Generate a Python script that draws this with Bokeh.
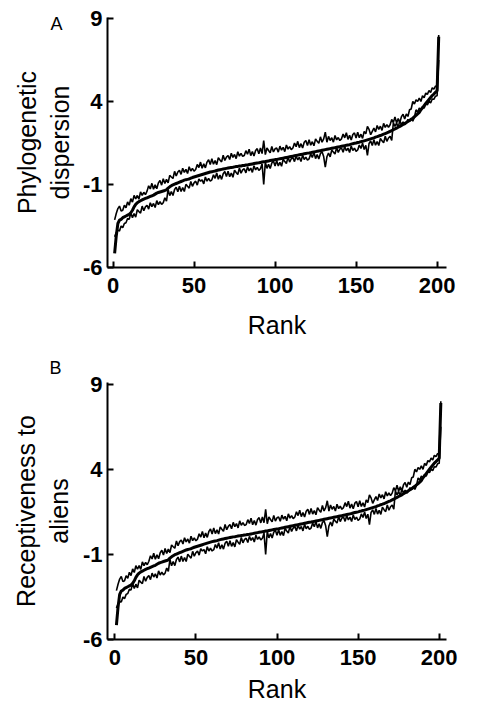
from bokeh.plotting import figure
from bokeh.layouts import column
from bokeh.models import Range1d, FixedTicker, Title
from bokeh.embed import file_html
from bokeh.resources import INLINE

# ---------------- data ----------------
rank = list(range(1, 202))

x_ticks = [0, 50, 100, 150, 200]
y_ticks = [-6, -1, 4, 9]
y_tick_labels = {-6: "-6", -1: "-1", 4: "4", 9: "9"}

disp_mean = [
    -5.15, -4.10, -3.35, -3.15, -3.10, -3.00, -2.95, -2.90, -2.85, -2.80,
    -2.70, -2.55, -2.35, -2.20, -2.10, -2.03, -1.98, -1.93, -1.88, -1.84,
    -1.80, -1.76, -1.72, -1.68, -1.64, -1.58, -1.52, -1.48, -1.45, -1.42,
    -1.39, -1.36, -1.32, -1.22, -1.14, -1.08, -1.02, -0.98, -0.94, -0.90,
    -0.86, -0.82, -0.78, -0.74, -0.71, -0.69, -0.67, -0.62, -0.58, -0.55,
    -0.52, -0.49, -0.46, -0.43, -0.40, -0.37, -0.34, -0.31, -0.28, -0.25,
    -0.23, -0.21, -0.19, -0.16, -0.13, -0.11, -0.09, -0.07, -0.05, -0.03,
    -0.01, 0.01, 0.03, 0.04, 0.06, 0.08, 0.09, 0.11, 0.12, 0.14,
    0.15, 0.17, 0.18, 0.20, 0.22, 0.24, 0.26, 0.28, 0.30, 0.31,
    0.33, 0.35, 0.37, 0.38, 0.40, 0.42, 0.44, 0.46, 0.48, 0.50,
    0.51, 0.53, 0.55, 0.57, 0.59, 0.61, 0.63, 0.65, 0.67, 0.69,
    0.71, 0.73, 0.75, 0.77, 0.79, 0.81, 0.83, 0.85, 0.87, 0.89,
    0.90, 0.92, 0.94, 0.96, 0.98, 1.00, 1.02, 1.04, 1.06, 1.08,
    1.10, 1.12, 1.14, 1.16, 1.18, 1.20, 1.22, 1.24, 1.26, 1.28,
    1.30, 1.32, 1.34, 1.36, 1.38, 1.40, 1.43, 1.46, 1.48, 1.50,
    1.53, 1.55, 1.58, 1.60, 1.63, 1.66, 1.69, 1.72, 1.75, 1.78,
    1.81, 1.85, 1.88, 1.92, 1.95, 1.99, 2.03, 2.07, 2.11, 2.15,
    2.20, 2.25, 2.30, 2.35, 2.40, 2.45, 2.50, 2.56, 2.62, 2.68,
    2.74, 2.80, 2.86, 2.93, 3.00, 3.08, 3.16, 3.25, 3.34, 3.50,
    3.62, 3.75, 3.88, 4.00, 4.12, 4.24, 4.36, 4.45, 4.55, 4.65,
    7.90,
]

disp_upper = [
    -3.13, -2.75, -2.45, -2.30, -2.60, -2.55, -2.25, -2.40, -2.05, -2.25,
    -1.85, -2.06, -1.66, -1.87, -1.66, -1.88, -1.44, -1.66, -1.47, -1.61,
    -1.40, -1.08, -1.27, -0.93, -1.29, -1.02, -1.26, -0.90, -0.76, -1.04,
    -0.65, -0.94, -0.69, -0.90, -0.45, -0.55, -0.64, -0.21, -0.49, -0.25,
    -0.15, -0.39, -0.02, -0.27, -0.09, -0.34, 0.07, -0.19, -0.03, -0.20,
    -0.10, 0.21, 0.02, 0.35, -0.02, 0.25, 0.00, 0.35, 0.49, 0.20,
    0.55, 0.22, 0.44, 0.20, 0.62, 0.48, 0.36, 0.76, 0.45, 0.65,
    0.75, 0.51, 0.88, 0.63, 0.81, 0.56, 0.97, 0.71, 0.87, 0.70,
    0.75, 1.04, 0.82, 1.13, 0.74, 0.99, 0.72, 1.05, 1.16, 0.85,
    1.20, 0.86, 1.65, 0.80, 1.20, 1.05, 0.91, 1.29, 0.96, 1.15,
    1.20, 0.95, 1.31, 1.07, 1.24, 0.98, 1.38, 1.13, 1.28, 1.10,
    1.20, 1.50, 1.28, 1.60, 1.22, 1.46, 1.20, 1.54, 1.65, 1.35,
    1.70, 1.37, 1.58, 1.33, 1.75, 1.60, 1.48, 1.87, 1.55, 1.75,
    2.15, 1.55, 1.90, 1.65, 1.82, 1.55, 1.95, 1.69, 1.83, 1.65,
    1.75, 2.04, 1.81, 2.12, 1.72, 1.96, 1.68, 2.01, 2.11, 1.80,
    2.15, 1.82, 2.03, 1.78, 2.20, 2.05, 2.50, 2.32, 2.00, 2.20,
    2.40, 2.17, 2.55, 2.32, 2.51, 2.26, 2.68, 2.44, 2.61, 2.45,
    2.60, 2.92, 2.73, 3.07, 2.71, 2.97, 2.73, 3.09, 3.23, 2.95,
    3.25, 3.10, 3.50, 3.55, 4.00, 3.85, 4.10, 4.00, 4.20, 4.00,
    4.35, 4.23, 4.51, 4.43, 4.66, 4.54, 4.82, 4.74, 4.92, 4.95,
    8.00,
]

disp_lower = [
    -4.15, -3.90, -3.75, -3.80, -3.50, -3.60, -3.35, -3.30, -3.05, -3.10,
    -2.70, -3.00, -2.75, -2.97, -2.52, -2.63, -2.72, -2.30, -2.58, -2.35,
    -2.25, -2.48, -2.10, -2.33, -2.14, -2.39, -1.97, -2.21, -2.04, -2.20,
    -2.10, -1.80, -2.00, -1.30, -1.67, -1.42, -1.66, -1.30, -1.16, -1.44,
    -1.10, -1.42, -1.18, -1.42, -0.99, -1.11, -1.22, -0.82, -1.11, -0.90,
    -0.80, -1.04, -0.66, -0.80, -0.72, -0.96, -0.55, -0.80, -0.63, -0.80,
    -0.72, -0.42, -0.63, -0.31, -0.68, -0.43, -0.69, -0.35, -0.22, -0.52,
    -0.20, -0.53, -0.31, -0.56, -0.14, -0.28, -0.40, -0.01, -0.32, -0.12,
    -0.05, -0.30, 0.06, -0.18, -0.01, -0.27, 0.13, -0.12, 0.03, -0.15,
    -0.05, 0.25, -1.00, 0.35, -0.03, 0.22, -0.04, 0.30, 0.42, 0.12,
    0.45, 0.12, 0.34, 0.10, 0.52, 0.38, 0.26, 0.66, 0.35, 0.55,
    0.63, 0.38, 0.73, 0.48, 0.64, 0.38, 0.77, 0.51, 0.65, 0.47,
    0.55, 0.84, 0.63, 0.94, 0.56, 0.80, 0.53, 0.87, 0.98, 0.68,
    0.05, 0.67, 0.90, 0.66, 1.08, 0.95, 0.84, 1.23, 0.93, 1.14,
    1.20, 0.94, 1.29, 1.03, 1.19, 0.93, 1.32, 1.05, 1.19, 1.00,
    1.08, 1.38, 1.17, 1.49, 1.11, 1.36, 0.75, 1.47, 1.62, 1.35,
    1.70, 1.37, 1.59, 1.35, 1.77, 1.63, 1.51, 1.91, 1.60, 1.80,
    1.90, 1.66, 2.72, 2.50, 2.70, 2.44, 2.85, 2.60, 2.77, 2.60,
    2.70, 2.92, 2.80, 2.98, 2.82, 3.05, 3.50, 3.35, 3.60, 3.50,
    3.70, 3.60, 3.87, 3.80, 4.01, 3.92, 4.15, 4.13, 4.32, 4.35,
    6.50,
]

# Panel B shows the same ranked series
recep_mean = disp_mean
recep_upper = disp_upper
recep_lower = disp_lower

FONT = "Liberation Sans"


def panel(letter, ylabel, mean, upper, lower, xr, yr, h, bl, br, bt, bb,
          letter_offset, letter_standoff, x_tick_stand, x_lab_stand, y_lab_stand):
    p = figure(width=466, height=h, x_range=Range1d(*xr), y_range=Range1d(*yr),
               output_backend="svg", toolbar_location=None,
               min_border_left=bl, min_border_right=br,
               min_border_top=bt, min_border_bottom=bb)
    p.outline_line_color = None
    p.grid.visible = False
    p.background_fill_color = "white"
    p.border_fill_color = "white"

    p.line(rank, upper, line_color="black", line_width=1.6)
    p.line(rank, lower, line_color="black", line_width=1.6)
    p.line(rank, mean, line_color="black", line_width=3)

    for ax in (p.xaxis[0], p.yaxis[0]):
        ax.axis_line_width = 2
        ax.axis_line_color = "black"
        ax.major_tick_line_width = 2
        ax.major_tick_line_color = "black"
        ax.major_tick_in = 6
        ax.major_tick_out = 0
        ax.minor_tick_line_color = None
        ax.major_label_text_font = FONT
        ax.major_label_text_font_size = "22px"
        ax.major_label_text_font_style = "bold"
        ax.major_label_text_color = "black"
        ax.axis_label_text_font = FONT
        ax.axis_label_text_font_size = "25px"
        ax.axis_label_text_font_style = "normal"
        ax.axis_label_text_color = "black"

    p.xaxis.ticker = FixedTicker(ticks=x_ticks)
    p.yaxis.ticker = FixedTicker(ticks=y_ticks)
    p.yaxis.major_label_overrides = y_tick_labels
    p.xaxis.major_label_standoff = x_tick_stand
    p.yaxis.major_label_standoff = 5
    p.xaxis.axis_label = "Rank"
    p.yaxis.axis_label = ylabel
    p.xaxis.axis_label_standoff = x_lab_stand
    p.yaxis.axis_label_standoff = y_lab_stand
    p.yaxis.axis_label_text_line_height = 1.17

    p.add_layout(Title(text=letter, align="left", offset=letter_offset,
                       standoff=letter_standoff, text_font=FONT,
                       text_font_size="18px", text_font_style="normal",
                       text_color="black"), "above")
    return p


pa = panel("A", "Phylogenetic\ndispersion", disp_mean, disp_upper, disp_lower,
           (-3.4, 205.8), (-6, 9.06), 346, 105, 20, 17, 79,
           -57, -32, 10, 15, 6)
pb = panel("B", "Receptiveness to\naliens", recep_mean, recep_upper, recep_lower,
           (-4.5, 204.5), (-6, 9.1), 364, 107, 6, 36, 71,
           -58, 10, 10, 7, 7)

layout = column(pa, pb, spacing=0)
open("out.html", "w").write(file_html(layout, INLINE))
